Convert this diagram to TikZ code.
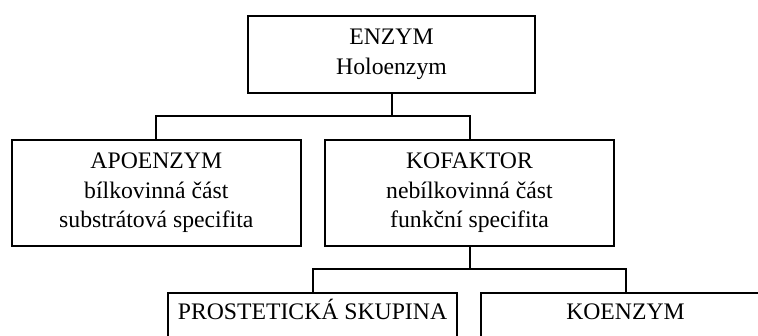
\documentclass[tikz,border=0pt]{standalone}
\usepackage{fontspec}
\setmainfont{Liberation Serif}
\begin{document}
\begin{tikzpicture}[x=1pt,y=-1pt,
  txt/.style={font=\fontsize{23.7}{29.5}\selectfont},
  box/.style={draw,line width=2pt,rectangle,inner sep=0pt,minimum width=289pt,minimum height=106pt,align=center,txt},
  topbox/.style={box,minimum width=287pt,minimum height=77pt},
  conn/.style={line width=2pt}]
\useasboundingbox (0,0) rectangle (758,336);
\fill[white] (0,0) rectangle (758,336);
\clip (0,0) rectangle (758,336);
\node[topbox] (enz) at (391.5,54.5) {ENZYM\\Holoenzym};
\node[box] (apo) at (156.3,193) {APOENZYM\\bílkovinná část\\substrátová specifita};
\node[box] (kof) at (469.5,193) {KOFAKTOR\\nebílkovinná část\\funkční specifita};
\node[box,label={[anchor=base,yshift=-28pt,txt,inner sep=0pt]north:PROSTETICKÁ SKUPINA}] (pro) at (312.5,346) {};
\node[box,label={[anchor=base,yshift=-28pt,txt,inner sep=0pt]north:KOENZYM}] (koe) at (625.5,346) {};
\coordinate (j1) at (391.5,116.3);
\coordinate (j2) at (469.5,269.5);
\draw[conn] (enz.south) -- (j1) -| (apo.north);
\draw[conn] (j1) -| (kof.north);
\draw[conn] (kof.south) -- (j2) -| (pro.north);
\draw[conn] (j2) -| (koe.north);
\end{tikzpicture}
\end{document}
